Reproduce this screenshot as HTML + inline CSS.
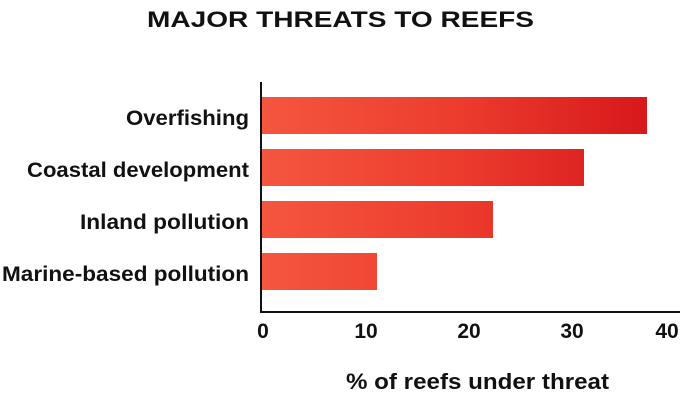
<!DOCTYPE html>
<html><head><meta charset="utf-8"><style>
html,body{margin:0;padding:0;background:#fff;}
svg{display:block;}
text{font-family:"Liberation Sans",sans-serif;font-weight:bold;fill:#111;}
</style></head><body>
<svg width="682" height="400" viewBox="0 0 682 400" xmlns="http://www.w3.org/2000/svg">
<defs>
<linearGradient id="g" gradientUnits="userSpaceOnUse" x1="262" y1="0" x2="647" y2="0">
<stop offset="0" stop-color="#f5563f"/>
<stop offset="0.5" stop-color="#ec3d2e"/>
<stop offset="1" stop-color="#d8181c"/>
</linearGradient>
</defs>
<text x="147" y="27" font-size="22" textLength="387" lengthAdjust="spacingAndGlyphs">MAJOR THREATS TO REEFS</text>
<rect x="262" y="97" width="385" height="37" fill="url(#g)"/>
<rect x="262" y="149" width="322" height="37" fill="url(#g)"/>
<rect x="262" y="201" width="231" height="37" fill="url(#g)"/>
<rect x="262" y="253" width="115" height="37" fill="url(#g)"/>
<line x1="261" y1="82" x2="261" y2="313" stroke="#111" stroke-width="2"/>
<line x1="260" y1="312" x2="680" y2="312" stroke="#111" stroke-width="2"/>
<g font-size="21">
<text x="126" y="125" textLength="123" lengthAdjust="spacingAndGlyphs">Overfishing</text>
<text x="27" y="177" textLength="222" lengthAdjust="spacingAndGlyphs">Coastal development</text>
<text x="80" y="229" textLength="169" lengthAdjust="spacingAndGlyphs">Inland pollution</text>
<text x="2" y="281" textLength="247" lengthAdjust="spacingAndGlyphs">Marine-based pollution</text>
</g>
<g font-size="21" text-anchor="middle">
<text x="263" y="338">0</text>
<text x="366" y="338">10</text>
<text x="469" y="338">20</text>
<text x="572" y="338">30</text>
<text x="667" y="338">40</text>
</g>
<text x="346" y="389" font-size="22" textLength="263" lengthAdjust="spacingAndGlyphs">% of reefs under threat</text>
</svg>
</body></html>
